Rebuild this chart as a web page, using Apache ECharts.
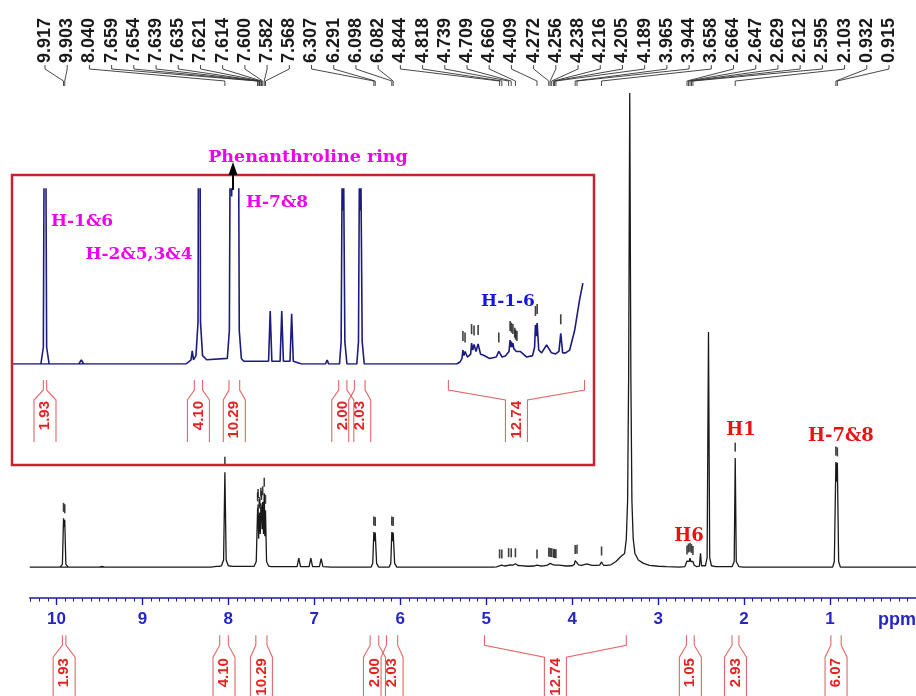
<!DOCTYPE html>
<html>
<head>
<meta charset="utf-8">
<script src="https://cdn.jsdelivr.net/npm/echarts@6/dist/echarts.min.js"></script>
<style>
  html, body { margin: 0; padding: 0; background: #fff; }
  #chart { width: 916px; height: 696px; }
</style>
</head>
<body>
<div id="chart"></div>
<script>
// 1H NMR spectrum: [chemical shift (ppm), relative intensity], solvent peak = 100
const spectrum = [
  [10.31, 0], [9.50, 0], [9.47, 0.15], [9.44, 0],
  [9.96, 0], [9.93, 0.6], [9.917, 10.3], [9.910, 8.5], [9.903, 10.0], [9.89, 0.6], [9.86, 0],
  [8.20, 0], [8.14, 0.15], [8.125, 0.47], [8.11, 0.15], [8.08, 0.3], [8.055, 1.5],
  [8.040, 20.0], [8.025, 1.5], [8.00, 0.3], [7.95, 0.15],
  [7.70, 0.2], [7.675, 1.2], [7.659, 12.5], [7.656, 11.5], [7.654, 13.2], [7.647, 6.0],
  [7.639, 11.0], [7.637, 10.5], [7.635, 11.5], [7.628, 7.0], [7.621, 13.5], [7.618, 12.0],
  [7.614, 12.8], [7.607, 8.0], [7.600, 13.8], [7.591, 7.0], [7.582, 15.6], [7.575, 6.5],
  [7.568, 12.0], [7.555, 1.2], [7.53, 0.2], [7.50, 0.1],
  [7.20, 0.1], [7.18, 1.9], [7.16, 0.1], [7.06, 0.1], [7.04, 1.9], [7.02, 0.1],
  [6.94, 0.1], [6.92, 1.8], [6.90, 0.1], [6.80, 0],
  [6.51, 0], [6.49, 0.14], [6.47, 0],
  [6.34, 0], [6.32, 0.8], [6.307, 7.4], [6.299, 5.5], [6.291, 7.3], [6.275, 0.8], [6.25, 0],
  [6.13, 0], [6.11, 0.8], [6.098, 7.4], [6.090, 5.5], [6.082, 7.3], [6.065, 0.8], [6.04, 0],
  [4.92, 0], [4.88, 0.07], [4.855, 0.2], [4.844, 0.5], [4.832, 0.3], [4.818, 0.45], [4.79, 0.25],
  [4.75, 0.35], [4.739, 0.75], [4.725, 0.5], [4.709, 0.7], [4.685, 0.45], [4.660, 0.72],
  [4.63, 0.35], [4.60, 0.32], [4.52, 0.2], [4.44, 0.25], [4.409, 0.45], [4.37, 0.25], [4.33, 0.29],
  [4.285, 0.45], [4.272, 0.86], [4.264, 0.6], [4.256, 0.8], [4.247, 0.6], [4.238, 0.75],
  [4.227, 0.55], [4.216, 0.62], [4.210, 0.5], [4.205, 0.55], [4.197, 0.45], [4.189, 0.5],
  [4.15, 0.45], [4.07, 0.25], [4.00, 0.3], [3.975, 0.6], [3.965, 1.4], [3.955, 1.0],
  [3.944, 1.47], [3.925, 0.5], [3.89, 0.4], [3.83, 0.68], [3.77, 0.4], [3.72, 0.36],
  [3.68, 0.45], [3.658, 1.1], [3.635, 0.4], [3.60, 0.4], [3.55, 0.5], [3.49, 1.2], [3.43, 2.3],
  [3.39, 2.9], [3.37, 6], [3.355, 14], [3.343, 40], [3.33, 100], [3.317, 40], [3.305, 14],
  [3.29, 6], [3.27, 2.9], [3.23, 1.5], [3.17, 0.8], [3.10, 0.4], [3.00, 0.2], [2.90, 0.1],
  [2.75, 0], [2.69, 0.1], [2.675, 0.5], [2.664, 1.3], [2.656, 1.0], [2.647, 1.7], [2.638, 1.2],
  [2.629, 1.9], [2.620, 1.2], [2.612, 1.6], [2.603, 1.0], [2.595, 1.2], [2.58, 0.4], [2.55, 0.1],
  [2.52, 0.2], [2.507, 2.9], [2.495, 0.3], [2.45, 0.3], [2.43, 2.0], [2.414, 49.6], [2.40, 2.0],
  [2.38, 0.3], [2.33, 0.1], [2.14, 0.1], [2.115, 1.2], [2.103, 23.0], [2.091, 1.2], [2.06, 0.1],
  [2.01, 0], [1.99, 0.4], [1.97, 0], [1.16, 0], [1.14, 0.4], [1.12, 0],
  [0.97, 0], [0.95, 1.2], [0.932, 22.2], [0.924, 18], [0.915, 22.0], [0.90, 1.2], [0.88, 0],
  [0.82, 0], [0.80, 0.35], [0.78, 0], [0.00, 0]
];

// Peak-picked shifts listed along the top
const pickedPeaks = [
  9.917, 9.903, 8.040, 7.659, 7.654, 7.639, 7.635, 7.621, 7.614, 7.600, 7.582, 7.568,
  6.307, 6.291, 6.098, 6.082, 4.844, 4.818, 4.739, 4.709, 4.660, 4.409, 4.272, 4.256,
  4.238, 4.216, 4.205, 4.189, 3.965, 3.944, 3.658, 2.664, 2.647, 2.629, 2.612, 2.595,
  2.103, 0.932, 0.915
];

// Integration regions and their values
const integralFrom   = [9.93, 8.10, 7.68, 6.35, 6.16, 5.02, 2.67, 2.14, 0.99];
const integralTo     = [9.89, 8.00, 7.55, 6.25, 6.03, 3.37, 2.58, 2.06, 0.87];
const integralValues = [1.93, 4.10, 10.29, 2.00, 2.03, 12.74, 1.05, 2.93, 6.07];

// Axis tick labels (ppm)
const ppmTicks = [1, 2, 3, 4, 5, 6, 7, 8, 9, 10];

// Low end of the expanded region shown in the boxed panel
const insetLowPpm = 3.39;

const heightAt = ppm => {
  const p = spectrum.find(s => s[0] === ppm);
  return p ? p[1] : 0;
};
const integrals = integralFrom.map((f, i) => [f, integralTo[i], integralValues[i]]);
const insetIntegrals = integrals.filter(d => d[1] >= insetLowPpm - 0.05);
const markerData = pickedPeaks.map(p => [p, heightAt(p)]);

const INT_LINE = '#e06868';
const INT_TEXT = '#e52222';

function integralRenderer(cfg) {
  return function (params, api) {
    const x1 = api.coord([api.value(0), 0])[0];
    const x2 = api.coord([api.value(1), 0])[0];
    const base = api.coord([api.value(0), 0])[1];
    const y0 = base + cfg.start, y1 = y0 + cfg.neck, y2 = y1 + cfg.flare, y3 = y2 + cfg.box;
    const cx = (x1 + x2) / 2, hw = 11;
    const ls = { stroke: INT_LINE, lineWidth: 1.1, fill: null };
    return {
      type: 'group',
      children: [
        { type: 'polyline', shape: { points: [[x1, y0], [x1, y1], [cx - hw, y2], [cx - hw, y3]] }, style: ls },
        { type: 'polyline', shape: { points: [[x2, y0], [x2, y1], [cx + hw, y2], [cx + hw, y3]] }, style: ls },
        {
          type: 'text', x: cx, y: y2 + 1, rotation: Math.PI / 2,
          style: {
            text: api.value(2).toFixed(2), fill: INT_TEXT,
            font: 'bold 15px "Liberation Sans", Arial, sans-serif',
            align: 'right', verticalAlign: 'middle', textAlign: 'right', textVerticalAlign: 'middle'
          }
        }
      ]
    };
  };
}

function peakLabelRenderer(params, api) {
  const n = pickedPeaks.length;
  const i = params.dataIndex;
  const lx = 45 + i * (889 - 45) / (n - 1);
  const px = api.coord([api.value(0), 0])[0];
  return {
    type: 'group',
    children: [
      {
        type: 'text', x: lx, y: 63, rotation: Math.PI / 2,
        style: {
          text: api.value(0).toFixed(3), fill: '#1a1a1a',
          font: 'bold 18px "Liberation Sans", Arial, sans-serif',
          align: 'left', verticalAlign: 'middle', textAlign: 'left', textVerticalAlign: 'middle'
        }
      },
      {
        type: 'polyline',
        shape: { points: [[lx, 65], [lx, 69], [px, 81], [px, 86]] },
        style: { stroke: '#333', lineWidth: 0.9, fill: null }
      }
    ]
  };
}

const serif = '"DejaVu Serif", "Liberation Serif", serif';
function note(text, x, y, color, size) {
  return {
    type: 'text', x: x, y: y, z: 100,
    style: {
      text: text, fill: color, font: 'bold ' + size + 'px ' + serif,
      align: 'center', verticalAlign: 'middle', textAlign: 'center', textVerticalAlign: 'middle'
    }
  };
}

const chart = echarts.init(document.getElementById('chart'), null, { renderer: 'canvas' });

chart.setOption({
  animation: false,
  backgroundColor: '#ffffff',
  grid: [
    { left: 29.75, width: 889.5, top: 93, height: 505 },
    { left: 12, width: 582, top: 189, height: 175 }
  ],
  xAxis: [
    {
      gridIndex: 0, type: 'value', min: 0, max: 10.31, interval: 1, inverse: true, position: 'bottom',
      axisLine: { show: true, onZero: false, lineStyle: { color: '#1c1c9c', width: 1.6 } },
      axisTick: { show: true, customValues: ppmTicks, length: 7, lineStyle: { color: '#1c1c9c', width: 1.4 } },
      axisLabel: {
        show: true, customValues: ppmTicks, margin: 13, color: '#2626c4',
        fontFamily: '"Liberation Sans", Arial, sans-serif', fontWeight: 'bold', fontSize: 17,
        formatter: v => (Number.isInteger(v) && v > 0) ? String(v) : ''
      },
      splitLine: { show: false }
    },
    {
      gridIndex: 0, type: 'value', min: 0, max: 10.31, interval: 0.1, inverse: true, position: 'bottom',
      axisLine: { show: false, onZero: false },
      axisTick: { show: true, length: 3.5, lineStyle: { color: '#1c1c9c', width: 1 } },
      axisLabel: { show: false },
      splitLine: { show: false }
    },
    {
      gridIndex: 1, type: 'value', min: 3.255, max: 10.31, inverse: true, show: false
    }
  ],
  yAxis: [
    { gridIndex: 0, type: 'value', min: -6.5, max: 100, show: false },
    { gridIndex: 1, type: 'value', min: 0, max: 6.27, show: false }
  ],
  series: [
    {
      name: 'spectrum', type: 'line', xAxisIndex: 0, yAxisIndex: 0,
      data: spectrum, showSymbol: false, symbol: 'none', clip: false,
      lineStyle: { color: '#1a1a1a', width: 1.3 }, z: 3
    },
    {
      name: 'expanded', type: 'line', xAxisIndex: 2, yAxisIndex: 1,
      data: spectrum.filter(p => p[0] >= insetLowPpm), showSymbol: false, symbol: 'none', clip: true,
      lineStyle: { color: '#1c1c7e', width: 1.6 }, z: 3
    },
    {
      name: 'peak markers', type: 'scatter', xAxisIndex: 0, yAxisIndex: 0,
      data: markerData, symbol: 'rect', symbolSize: [1.6, 9], symbolOffset: [0, -11],
      itemStyle: { color: '#111' }, clip: false, z: 4
    },
    {
      name: 'expanded markers', type: 'scatter', xAxisIndex: 2, yAxisIndex: 1,
      data: markerData, symbol: 'rect', symbolSize: [1.6, 10], symbolOffset: [0, -14],
      itemStyle: { color: '#111' }, clip: true, z: 4
    },
    {
      name: 'peak list', type: 'custom', coordinateSystem: 'cartesian2d', xAxisIndex: 0, yAxisIndex: 0,
      data: pickedPeaks.map(p => [p, 0]), renderItem: peakLabelRenderer, clip: false, z: 5
    },
    {
      name: 'integrals', type: 'custom', coordinateSystem: 'cartesian2d', xAxisIndex: 0, yAxisIndex: 0,
      data: integrals, encode: { x: [0, 1], y: 2 },
      renderItem: integralRenderer({ start: 68, neck: 10, flare: 12, box: 60 }), clip: false, z: 5
    },
    {
      name: 'expanded integrals', type: 'custom', coordinateSystem: 'cartesian2d', xAxisIndex: 2, yAxisIndex: 1,
      data: insetIntegrals, encode: { x: [0, 1], y: 2 },
      renderItem: integralRenderer({ start: 16, neck: 10, flare: 10, box: 42 }), clip: false, z: 5
    }
  ],
  graphic: [
    {
      type: 'rect', z: 50,
      shape: { x: 12, y: 175, width: 582, height: 290 },
      style: { stroke: '#c8232c', lineWidth: 2.5, fill: null }
    },
    {
      type: 'line', z: 60,
      shape: { x1: 233, y1: 190, x2: 233, y2: 172 },
      style: { stroke: '#000', lineWidth: 2 }
    },
    {
      type: 'polygon', z: 60,
      shape: { points: [[228.5, 175], [233, 162], [237.5, 175]] },
      style: { fill: '#000' }
    },
    note('Phenanthroline ring', 308, 157, '#ee00ee', 17.5),
    note('H-1&6', 82, 222, '#ee00ee', 17),
    note('H-2&5,3&4', 139, 255, '#ee00ee', 17),
    note('H-7&8', 277, 203, '#ee00ee', 17),
    note('H-1-6', 508, 302, '#1515e6', 17),
    note('H6', 689, 536, '#ee1111', 18),
    note('H1', 741, 430, '#ee1111', 18),
    note('H-7&8', 841, 436, '#ee1111', 18),
    {
      type: 'text', x: 897, y: 620, z: 60,
      style: {
        text: 'ppm', fill: '#2626c4', font: 'bold 18px "Liberation Sans", Arial, sans-serif',
        align: 'center', verticalAlign: 'middle', textAlign: 'center', textVerticalAlign: 'middle'
      }
    }
  ]
});
</script>
</body>
</html>
